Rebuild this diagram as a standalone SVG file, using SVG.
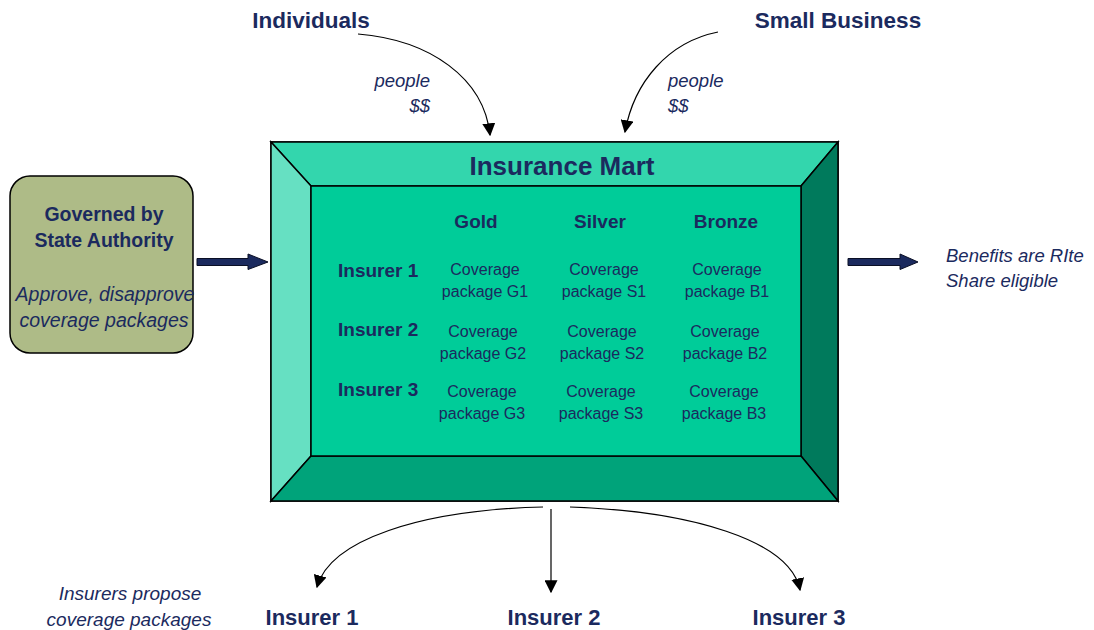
<svg xmlns="http://www.w3.org/2000/svg" width="1094" height="630" viewBox="0 0 1094 630">
  <defs>
    <style>
      text { font-family: "Liberation Sans", Arial, sans-serif; fill: #1b2a5e; }
      .b { font-weight: bold; }
      .i { font-style: italic; }
      .m { text-anchor: middle; }
      .e { text-anchor: end; }
      .cell { font-size: 16px; text-anchor: middle; }
      .row { font-size: 19px; font-weight: bold; }
      .col { font-size: 19px; font-weight: bold; text-anchor: middle; }
      .bevel { stroke: #000; stroke-width: 1.5; stroke-linejoin: miter; }
      .flow { fill: none; stroke: #000; stroke-width: 1.2; }
      .block { fill: #1b2a5e; stroke: #0a0f25; stroke-width: 1; }
    </style>
    <marker id="tip" viewBox="0 0 10 10" refX="9" refY="5" markerWidth="13" markerHeight="13" markerUnits="userSpaceOnUse" orient="auto">
      <path d="M0,0 L10,5 L0,10 Z" fill="#000"/>
    </marker>
  </defs>

  <rect width="1094" height="630" fill="#fff"/>

  <!-- State authority -->
  <g id="state-authority">
    <rect x="10" y="176" width="183" height="177" rx="20" ry="20" fill="#aebb87" stroke="#000" stroke-width="1.5"/>
    <text class="b m" x="104" y="221" font-size="19.5">Governed by</text>
    <text class="b m" x="104" y="247" font-size="19.5">State Authority</text>
    <text class="i m" x="105" y="301" font-size="19.5">Approve, disapprove</text>
    <text class="i m" x="104" y="327" font-size="19.5">coverage packages</text>
  </g>

  <!-- Insurance mart: bevelled frame -->
  <g id="insurance-mart">
    <rect x="271" y="142" width="567" height="359" fill="#00cc99" stroke="#000" stroke-width="1.5"/>
    <polygon class="bevel" points="271,142 838,142 801,186 311,186" fill="#33d6ad"/>
    <polygon class="bevel" points="271,142 311,186 311,456 271,501" fill="#66e0c2"/>
    <polygon class="bevel" points="838,142 838,501 801,456 801,186" fill="#007a5c"/>
    <polygon class="bevel" points="271,501 311,456 801,456 838,501" fill="#00a37a"/>
    <rect x="311" y="186" width="490" height="270" fill="#00cc99" stroke="#000" stroke-width="1.5"/>
    <text class="b m" x="562" y="175" font-size="26">Insurance Mart</text>

    <text class="col" x="476" y="228">Gold</text>
    <text class="col" x="600" y="228">Silver</text>
    <text class="col" x="726" y="228">Bronze</text>

    <text class="row" x="338" y="277" font-size="19.5">Insurer 1</text>
    <text class="row" x="338" y="336" font-size="19.5">Insurer 2</text>
    <text class="row" x="338" y="396" font-size="19.5">Insurer 3</text>

    <text class="cell" x="485" y="275">Coverage</text>
    <text class="cell" x="485" y="297">package G1</text>
    <text class="cell" x="604" y="275">Coverage</text>
    <text class="cell" x="604" y="297">package S1</text>
    <text class="cell" x="727" y="275">Coverage</text>
    <text class="cell" x="727" y="297">package B1</text>

    <text class="cell" x="483" y="337">Coverage</text>
    <text class="cell" x="483" y="359">package G2</text>
    <text class="cell" x="602" y="337">Coverage</text>
    <text class="cell" x="602" y="359">package S2</text>
    <text class="cell" x="725" y="337">Coverage</text>
    <text class="cell" x="725" y="359">package B2</text>

    <text class="cell" x="482" y="397">Coverage</text>
    <text class="cell" x="482" y="419">package G3</text>
    <text class="cell" x="601" y="397">Coverage</text>
    <text class="cell" x="601" y="419">package S3</text>
    <text class="cell" x="724" y="397">Coverage</text>
    <text class="cell" x="724" y="419">package B3</text>
  </g>

  <!-- Sources -->
  <g id="individuals">
    <text class="b m" x="311" y="28" font-size="22.5">Individuals</text>
  </g>
  <g id="small-business">
    <text class="b m" x="838" y="28" font-size="22.5">Small Business</text>
  </g>

  <!-- Outcome -->
  <g id="benefits">
    <text class="i" x="946" y="262" font-size="18.5">Benefits are RIte</text>
    <text class="i" x="946" y="287" font-size="18.5">Share eligible</text>
  </g>

  <!-- Insurers -->
  <g id="insurer-1">
    <text class="b m" x="312" y="625" font-size="22">Insurer 1</text>
  </g>
  <g id="insurer-2">
    <text class="b m" x="554" y="625" font-size="22">Insurer 2</text>
  </g>
  <g id="insurer-3">
    <text class="b m" x="799" y="625" font-size="22">Insurer 3</text>
  </g>

  <!-- Connectors -->
  <g id="connectors">
    <path class="flow" d="M358,34 C430,40 484,78 490,135" marker-end="url(#tip)"/>
    <path class="flow" d="M718,32 C668,42 634,82 625,132" marker-end="url(#tip)"/>
    <path class="block" d="M197,258.5 L248,258.5 L248,254 L268,262 L248,269.5 L248,265.5 L197,265.5 Z"/>
    <path class="block" d="M848,258.5 L900,258.5 L900,254 L918,262 L900,269.5 L900,265.5 L848,265.5 Z"/>
    <path class="flow" d="M543,507 C420,510 330,540 317,587" marker-end="url(#tip)"/>
    <path class="flow" d="M551,509 L551,592" marker-end="url(#tip)"/>
    <path class="flow" d="M570,507 C690,511 790,540 800,590" marker-end="url(#tip)"/>

    <text class="i e" x="430" y="87" font-size="18.5">people</text>
    <text class="i e" x="430" y="112" font-size="18.5">$$</text>
    <text class="i" x="668" y="87" font-size="18.5">people</text>
    <text class="i" x="668" y="112" font-size="18.5">$$</text>
    <text class="i m" x="130" y="600" font-size="19">Insurers propose</text>
    <text class="i m" x="129" y="626" font-size="19">coverage packages</text>
  </g>
</svg>
